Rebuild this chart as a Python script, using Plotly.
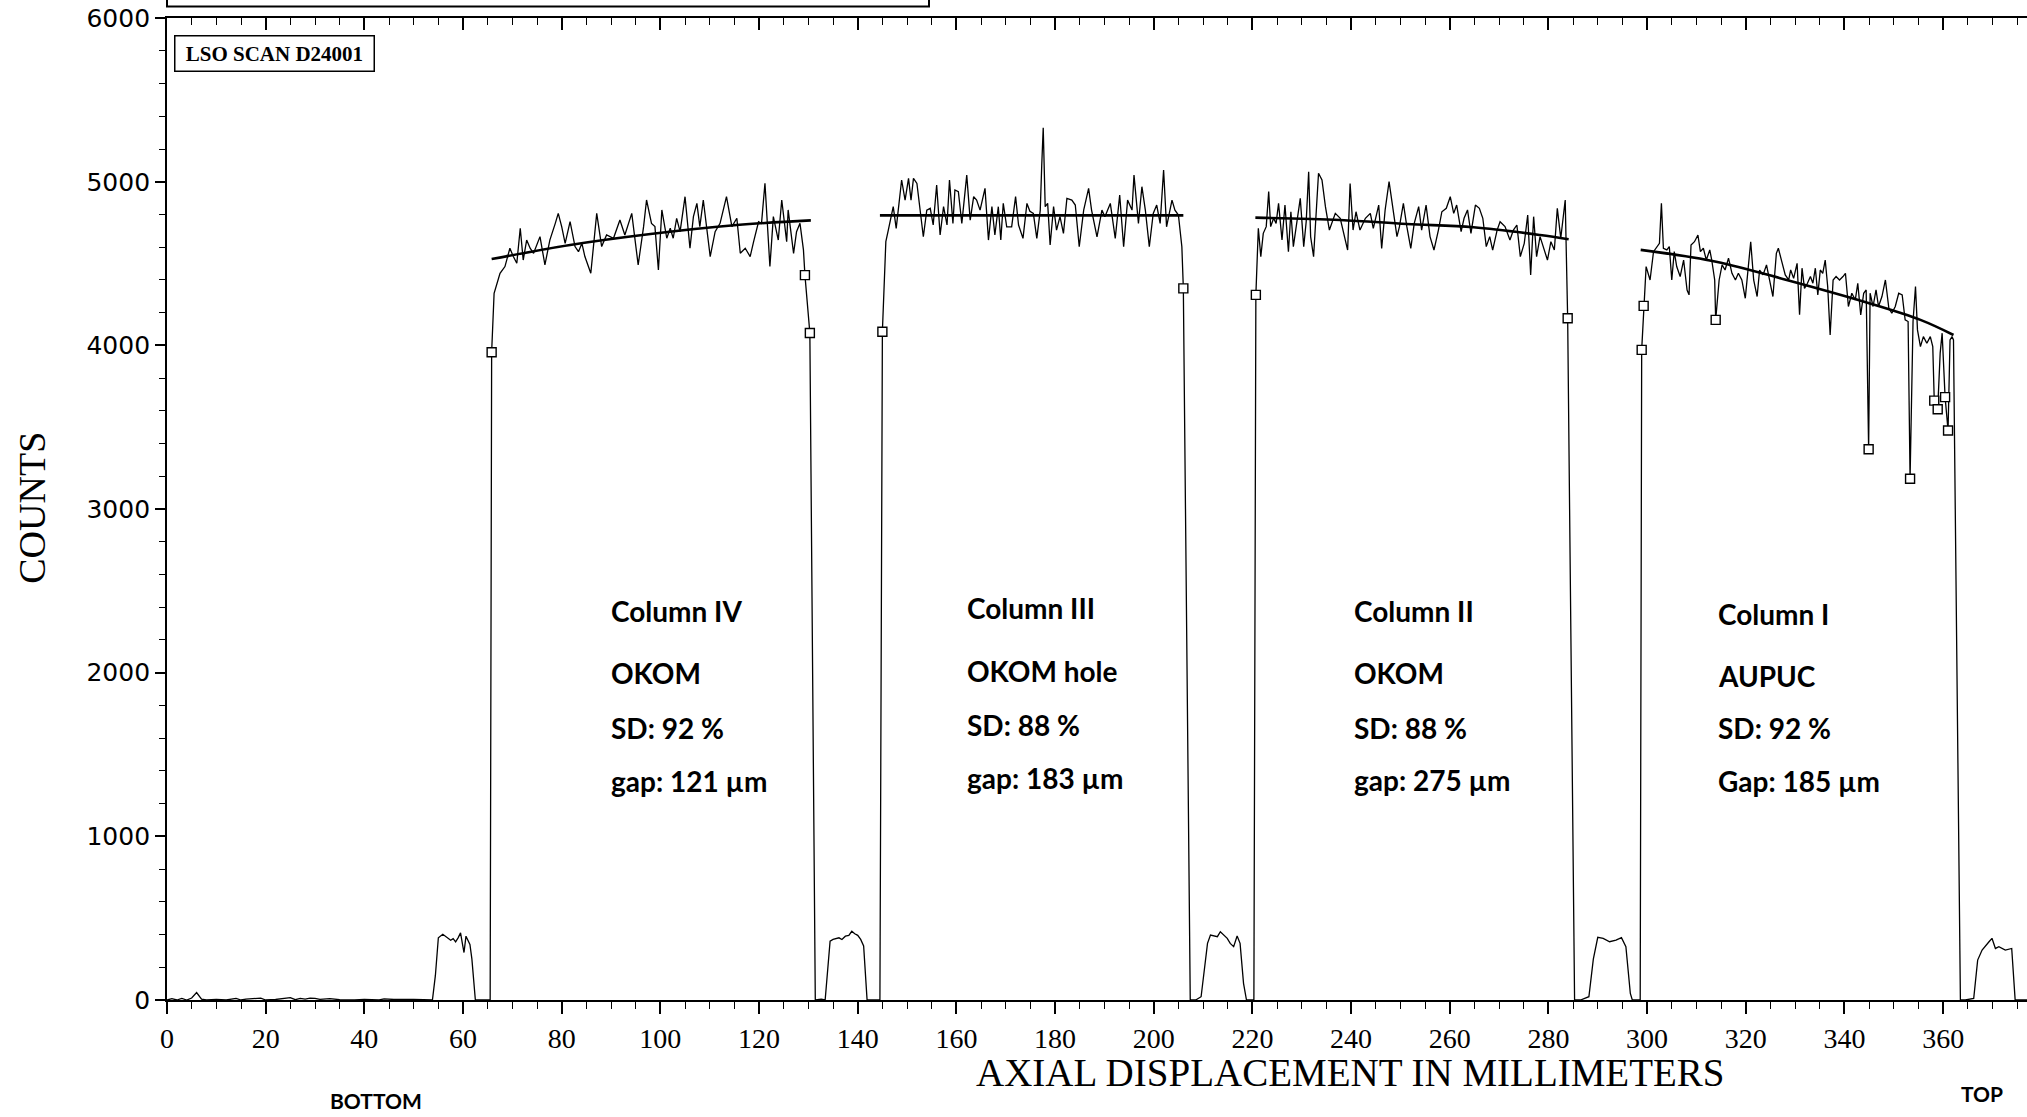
import plotly.graph_objects as go

# ---------------- data ----------------
# baseline + first gap bump (0 - 62.5 mm)
gapA_mm = [0, 1, 2, 3, 4, 5, 6, 7, 8, 10, 12, 14, 15, 16, 19, 20, 22, 25, 26, 27,
           28, 29, 30, 31, 33, 35, 38, 40, 43, 44, 46, 48, 50, 52, 53.8,
           54.4, 55.0, 55.9, 56.5, 57.0, 57.5, 58.0, 58.5, 59.0, 59.5, 59.9, 60.2,
           60.6, 61.0, 61.4, 61.8, 62.5]
gapA_counts = [0, 8, 0, 10, 0, 12, 45, 5, 0, 3, 0, 10, 0, 5, 12, 0, 3, 14, 2, 10,
               6, 12, 10, 4, 8, 2, 0, 3, 0, 7, 3, 5, 4, 2, 0,
               150, 380, 402, 390, 380, 365, 375, 355, 380, 410, 340, 290,
               390, 360, 340, 250, 0]

col4_mm = [65.5, 65.8, 66.3, 67.5, 68.5, 69.5, 70.2, 70.9, 71.6, 72.2,
           72.9, 73.6, 74.3, 74.9, 75.6, 76.6, 77.6, 78.7, 79.3, 80.0,
           80.7, 81.7, 82.7, 83.4, 84.1, 84.7, 85.9, 87.1, 88.1, 89.1,
           90.5, 91.8, 92.8, 94.2, 95.5, 96.6, 97.2, 98.2, 98.9, 99.6,
           100.3, 101.3, 102.0, 102.6, 103.3, 104.0, 105.0, 106.0, 106.7, 107.4,
           108.0, 108.7, 110.1, 111.1, 112.1, 113.4, 114.5, 115.5, 116.2, 117.2,
           118.2, 118.9, 119.9, 120.5, 121.2, 122.2, 122.9, 123.9, 124.6, 125.6,
           125.9, 127.0, 127.6, 128.3, 129.0, 129.3, 130.3, 131.4]
col4_counts = [0, 3958, 4319, 4441, 4482, 4594, 4543, 4502, 4716, 4522,
               4644, 4594, 4563, 4614, 4665, 4492, 4644, 4746, 4807, 4726,
               4624, 4756, 4604, 4573, 4624, 4543, 4441, 4807, 4604, 4675,
               4655, 4767, 4675, 4807, 4492, 4726, 4889, 4746, 4726, 4461,
               4828, 4655, 4716, 4655, 4777, 4695, 4909, 4594, 4787, 4868,
               4726, 4889, 4543, 4695, 4746, 4909, 4726, 4777, 4563, 4594,
               4543, 4634, 4756, 4746, 4991, 4482, 4787, 4644, 4889, 4634,
               4828, 4563, 4695, 4746, 4584, 4430, 4076, 0]

gapB_mm = [132.6, 133.4, 133.9, 134.4, 135.0, 135.6, 136.2, 136.8, 137.5, 138.2,
           138.8, 139.4, 140.0, 140.6, 141.2, 141.9, 143.5]
gapB_counts = [5, 0, 200, 360, 370, 375, 380, 370, 390, 395,
               420, 405, 395, 370, 330, 0, 0]

col3_mm = [144.5, 145.0, 145.7, 146.2, 147.2, 147.8, 148.9, 149.6, 150.3, 150.8,
           151.3, 152.0, 153.3, 154.0, 154.7, 155.3, 156.0, 156.7, 157.4, 158.1,
           158.6, 159.3, 159.7, 160.4, 161.1, 162.1, 162.8, 163.5, 164.1, 164.8,
           165.8, 166.5, 167.2, 167.8, 168.5, 169.0, 169.5, 170.2, 171.2, 172.0,
           172.6, 173.5, 174.3, 174.9, 175.6, 176.3, 177.0, 177.3, 177.6, 178.0,
           178.5, 179.0, 179.7, 180.3, 181.0, 181.7, 182.4, 183.4, 184.1, 184.9,
           185.8, 186.8, 187.4, 188.5, 189.5, 190.1, 191.2, 192.2, 193.1, 193.9,
           194.7, 195.6, 196.0, 196.9, 197.6, 198.3, 199.1, 199.9, 200.6, 201.3,
           202.0, 202.6, 203.7, 204.3, 205.0, 205.7, 206.0, 207.4]
col3_counts = [0, 4084, 4634, 4705, 4848, 4715, 5011, 4888, 5021, 4888,
               5021, 4990, 4664, 4827, 4838, 4736, 4980, 4675, 4848, 4736,
               5011, 4746, 4950, 4939, 4746, 5041, 4766, 4909, 4888, 4827,
               4960, 4644, 4848, 4675, 4848, 4644, 4868, 4725, 4725, 4909,
               4736, 4654, 4868, 4820, 4807, 4654, 4827, 5102, 5330, 4848,
               4868, 4614, 4848, 4705, 4787, 4685, 4899, 4888, 4858, 4603,
               4827, 4960, 4827, 4664, 4827, 4787, 4868, 4654, 4919, 4603,
               4888, 4827, 5041, 4746, 4970, 4827, 4603, 4807, 4858, 4746,
               5072, 4725, 4888, 4827, 4797, 4603, 4349, 0]

gapC_mm = [208.5, 209.6, 210.9, 211.5, 212.9, 213.5, 214.2, 214.9, 215.5, 216.2,
           216.9, 217.5, 218.2, 218.8, 219.8]
gapC_counts = [0, 20, 346, 397, 387, 417, 397, 377, 346, 326,
               391, 346, 102, 0, 0]

col2_mm = [220.3, 220.7, 221.2, 221.7, 222.2, 222.8, 223.3, 223.7, 224.3, 224.8,
           225.3, 226.0, 226.6, 227.3, 227.8, 228.3, 229.0, 229.7, 230.4, 230.9,
           231.4, 231.8, 232.4, 233.4, 234.1, 234.8, 235.6, 236.8, 237.8, 238.5,
           239.3, 239.8, 240.4, 241.0, 241.8, 242.9, 243.9, 244.5, 245.6, 246.2,
           246.9, 247.7, 248.5, 249.3, 249.8, 250.6, 251.3, 252.1, 252.8, 253.7,
           254.3, 255.2, 256.0, 256.8, 257.7, 258.4, 259.3, 260.1, 260.8, 261.4,
           262.3, 262.9, 263.6, 264.3, 265.2, 266.0, 266.7, 267.4, 268.1, 268.7,
           269.6, 270.2, 271.2, 272.2, 272.9, 273.6, 274.3, 275.1, 275.8, 276.4,
           277.0, 277.6, 278.3, 279.1, 279.8, 280.5, 281.2, 281.8, 282.5, 283.4,
           283.9, 285.3]
col2_counts = [0, 4309, 4716, 4543, 4685, 4726, 4940, 4726, 4777, 4746,
               4868, 4644, 4858, 4573, 4817, 4604, 4767, 4899, 4604, 4756,
               5062, 4665, 4543, 5052, 5011, 4848, 4705, 4807, 4777, 4685,
               4583, 4990, 4705, 4817, 4705, 4777, 4807, 4716, 4858, 4593,
               4828, 5001, 4828, 4665, 4726, 4868, 4726, 4593, 4746, 4848,
               4705, 4858, 4665, 4583, 4705, 4817, 4838, 4909, 4807, 4858,
               4695, 4777, 4828, 4685, 4858, 4838, 4777, 4604, 4665, 4583,
               4705, 4756, 4726, 4644, 4705, 4736, 4543, 4624, 4797, 4431,
               4787, 4543, 4665, 4583, 4522, 4634, 4583, 4838, 4655, 4889,
               4166, 0]

gapD_mm = [286.5, 288.2, 289.1, 290.0, 291.1, 292.4, 293.7, 294.8, 295.7, 296.6,
           297.0, 298.0]
gapD_counts = [0, 20, 250, 383, 377, 356, 366, 381, 326, 40,
               0, 0]

col1_mm = [298.6, 298.9, 299.3, 299.8, 300.6, 301.3, 302.5, 302.9, 303.3, 304.0,
           304.5, 305.0, 305.5, 306.0, 306.7, 307.4, 308.1, 308.5, 308.9, 309.6,
           310.3, 310.8, 311.4, 312.0, 312.7, 313.1, 313.7, 313.9, 314.6, 315.2,
           315.8, 316.5, 317.2, 317.9, 318.5, 319.2, 319.9, 320.4, 321.0, 321.6,
           322.3, 322.8, 323.5, 324.2, 324.8, 325.5, 326.2, 326.6, 327.3, 328.0,
           328.7, 329.1, 329.7, 330.4, 330.9, 331.4, 331.9, 332.5, 333.1, 333.6,
           334.1, 334.6, 335.1, 335.6, 336.1, 336.6, 337.1, 337.7, 338.3, 339.0,
           339.7, 340.2, 340.8, 341.5, 342.2, 342.7, 343.3, 343.9, 344.4, 344.9,
           345.2, 345.8, 346.4, 346.9, 347.6, 348.3, 349.0, 349.6, 350.3, 351.0,
           351.7, 352.3, 352.9, 353.3, 353.9, 354.4, 354.8, 355.4, 356.0, 356.7,
           357.4, 357.9, 358.2, 358.9, 359.4, 359.8, 360.4, 361.0, 361.4, 361.8,
           362.1, 363.5]
col1_counts = [0, 3973, 4242, 4482, 4400, 4573, 4624, 4868, 4594, 4584,
               4604, 4400, 4573, 4482, 4421, 4522, 4339, 4309, 4614, 4634,
               4675, 4573, 4594, 4522, 4584, 4522, 4400, 4156, 4400, 4492,
               4461, 4533, 4441, 4400, 4441, 4400, 4288, 4441, 4634, 4400,
               4299, 4461, 4431, 4492, 4400, 4299, 4563, 4594, 4512, 4431,
               4400, 4461, 4410, 4502, 4187, 4472, 4349, 4380, 4421, 4380,
               4472, 4309, 4461, 4441, 4522, 4360, 4064, 4400, 4421, 4400,
               4421, 4441, 4238, 4319, 4278, 4380, 4187, 4319, 4339, 3366,
               4319, 4238, 4339, 4238, 4299, 4400, 4227, 4197, 4238, 4319,
               4309, 4156, 4146, 3185, 4146, 4360, 4095, 3993, 4054, 4013,
               4054, 3993, 3663, 3610, 3953, 4075, 3684, 3480, 4034, 4054,
               4034, 0]

gapE_mm = [364.5, 366.2, 367.0, 367.9, 369.3, 369.9, 370.6, 371.3, 372.6, 373.9,
           374.6, 377.0]
gapE_counts = [0, 10, 244, 305, 356, 377, 315, 326, 305, 315,
               0, 0]

# flagged (open-square) points
flag_mm = [65.8, 129.3, 130.3, 145.0, 206.0, 220.7, 283.9, 298.9, 299.3, 313.9,
           344.9, 353.3, 358.2, 358.9, 360.4, 361.0]
flag_counts = [3958, 4430, 4076, 4084, 4349, 4309, 4166, 3973, 4242, 4156,
               3366, 3185, 3663, 3610, 3684, 3480]

# fitted curves over each column
fit4_mm = [65.8, 81.7, 98.0, 115.5, 130.5]
fit4_counts = [4528, 4614, 4681, 4736, 4764]
fit3_mm = [144.5, 206.0]
fit3_counts = [4795, 4795]
fit2_mm = [220.6, 237.8, 251.3, 264.8, 278.3, 284.1]
fit2_counts = [4781, 4767, 4742, 4722, 4675, 4649]
fit1_mm = [298.7, 314.0, 328.3, 345.0, 355.4, 362.1]
fit1_counts = [4584, 4512, 4400, 4258, 4156, 4064]

# column labels
col_labels = [
    ("Column IV", "OKOM", "SD: 92 %", "gap: 121 \u00b5m"),
    ("Column III", "OKOM hole", "SD: 88 %", "gap: 183 \u00b5m"),
    ("Column II", "OKOM", "SD: 88 %", "gap: 275 \u00b5m"),
    ("Column I", "AUPUC", "SD: 92 %", "Gap: 185 \u00b5m"),
]
col_label_x = [89.6, 161.8, 240.2, 314.0]
label_row_y = [[2379, 2000, 1664, 1340],
               [2397, 2012, 1682, 1359],
               [2379, 2000, 1664, 1347],
               [2360, 1982, 1664, 1340]]

x_ticks = list(range(0, 380, 20))
y_ticks = list(range(0, 7000, 1000))

# ---------------- assemble ----------------
seg_mm = [gapA_mm, col4_mm, gapB_mm, col3_mm, gapC_mm, col2_mm, gapD_mm, col1_mm, gapE_mm]
seg_ct = [gapA_counts, col4_counts, gapB_counts, col3_counts, gapC_counts,
          col2_counts, gapD_counts, col1_counts, gapE_counts]
scan_mm, scan_counts = [], []
for a, b in zip(seg_mm, seg_ct):
    assert len(a) == len(b), (len(a), len(b), a[0])
    scan_mm += a
    scan_counts += b
assert len(flag_mm) == len(flag_counts)

fig = go.Figure()
fig.add_trace(go.Scatter(x=scan_mm, y=scan_counts, mode="lines",
                         line=dict(color="black", width=1.3), showlegend=False,
                         hoverinfo="skip"))
for fx, fy in [(fit4_mm, fit4_counts), (fit3_mm, fit3_counts),
               (fit2_mm, fit2_counts), (fit1_mm, fit1_counts)]:
    fig.add_trace(go.Scatter(x=fx, y=fy, mode="lines",
                             line=dict(color="black", width=2.6, shape="spline"),
                             showlegend=False))
fig.add_trace(go.Scatter(x=flag_mm, y=flag_counts, mode="markers",
                         marker=dict(symbol="square", size=9, color="white",
                                     line=dict(color="black", width=1.4)),
                         showlegend=False))
# helper trace to carry the top (mirror) axis
fig.add_trace(go.Scatter(x=[0, 377], y=[None, None], xaxis="x2", yaxis="y",
                         mode="lines", showlegend=False, hoverinfo="skip"))

W, H = 2027, 1117
L, R, T = 167, 0, 18
B = H - T - 982.5
pw, ph = W - L - R, H - T - B


def px(xp):
    return (xp - L) / pw


def py(yp):
    return (H - B - yp) / ph


anns = []
for i, lines in enumerate(col_labels):
    for j, txt in enumerate(lines):
        anns.append(dict(x=col_label_x[i], y=label_row_y[i][j], xref="x", yref="y",
                         text=txt, showarrow=False, xanchor="left", yanchor="middle",
                         font=dict(family="Lato", size=28, color="black", weight="bold")))

anns += [
    dict(x=px(174), y=py(35), xref="paper", yref="paper", xanchor="left", yanchor="top",
         text=" LSO SCAN D24001 ", showarrow=False, bordercolor="black", borderwidth=1.5,
         borderpad=5, bgcolor="white",
         font=dict(family="Liberation Serif", size=21, color="black", weight="bold")),
    dict(x=px(1350), y=py(1073), xref="paper", yref="paper", xanchor="center",
         yanchor="middle", text="AXIAL DISPLACEMENT IN MILLIMETERS", showarrow=False,
         font=dict(family="Liberation Serif", size=39, color="black")),
    dict(x=px(32), y=py(508), xref="paper", yref="paper", xanchor="center",
         yanchor="middle", text="COUNTS", textangle=-90, showarrow=False,
         font=dict(family="Liberation Serif", size=38, color="black")),
    dict(x=px(376), y=py(1116), xref="paper", yref="paper", xanchor="center",
         yanchor="bottom", text="BOTTOM", showarrow=False,
         font=dict(family="Lato", size=21, color="black", weight="bold")),
    dict(x=px(1982), y=py(1094), xref="paper", yref="paper", xanchor="center",
         yanchor="middle", text="TOP", showarrow=False,
         font=dict(family="Lato", size=21, color="black", weight="bold")),
]

fig.update_layout(
    width=W, height=H,
    margin=dict(l=L, r=R, t=T, b=B, pad=0),
    paper_bgcolor="white", plot_bgcolor="white",
    showlegend=False,
    annotations=anns,
    shapes=[dict(type="rect", xref="paper", yref="paper", x0=0, x1=px(929),
                 y0=py(6.5), y1=py(-10), line=dict(color="black", width=2),
                 fillcolor="rgba(0,0,0,0)")],
    xaxis=dict(range=[0, 377], tickvals=x_ticks, ticks="outside", ticklen=12,
               tickwidth=1.5, tickcolor="black", showline=True, linecolor="black",
               linewidth=2, showgrid=False, zeroline=False,
               tickfont=dict(family="Liberation Serif", size=28, color="black"),
               minor=dict(dtick=5, tick0=0, ticks="outside", ticklen=7, tickwidth=1.2,
                          tickcolor="black", showgrid=False)),
    xaxis2=dict(range=[0, 377], overlaying="x", side="top", anchor="y",
                tickvals=x_ticks, ticks="inside", ticklen=12, tickwidth=1.5,
                tickcolor="black", showline=True, linecolor="black", linewidth=2,
                showticklabels=False, showgrid=False, zeroline=False,
                minor=dict(dtick=5, tick0=0, ticks="inside", ticklen=7, tickwidth=1.2,
                           tickcolor="black", showgrid=False)),
    yaxis=dict(range=[0, 6001], tickvals=y_ticks, ticks="outside", ticklen=10,
               tickwidth=1.5, tickcolor="black", showline=True, linecolor="black",
               linewidth=1.8, showgrid=False, zeroline=False,
               tickfont=dict(family="DejaVu Sans", size=25, color="black"),
               minor=dict(dtick=200, tick0=0, ticks="outside", ticklen=6, tickwidth=1.2,
                          tickcolor="black", showgrid=False)),
)

# remove the browser's default 8px body margin so the figure fills the window exactly
fig.write_html("out.html", config={"displayModeBar": False},
               post_script="document.body.style.margin='0';document.body.style.overflow='hidden';")
